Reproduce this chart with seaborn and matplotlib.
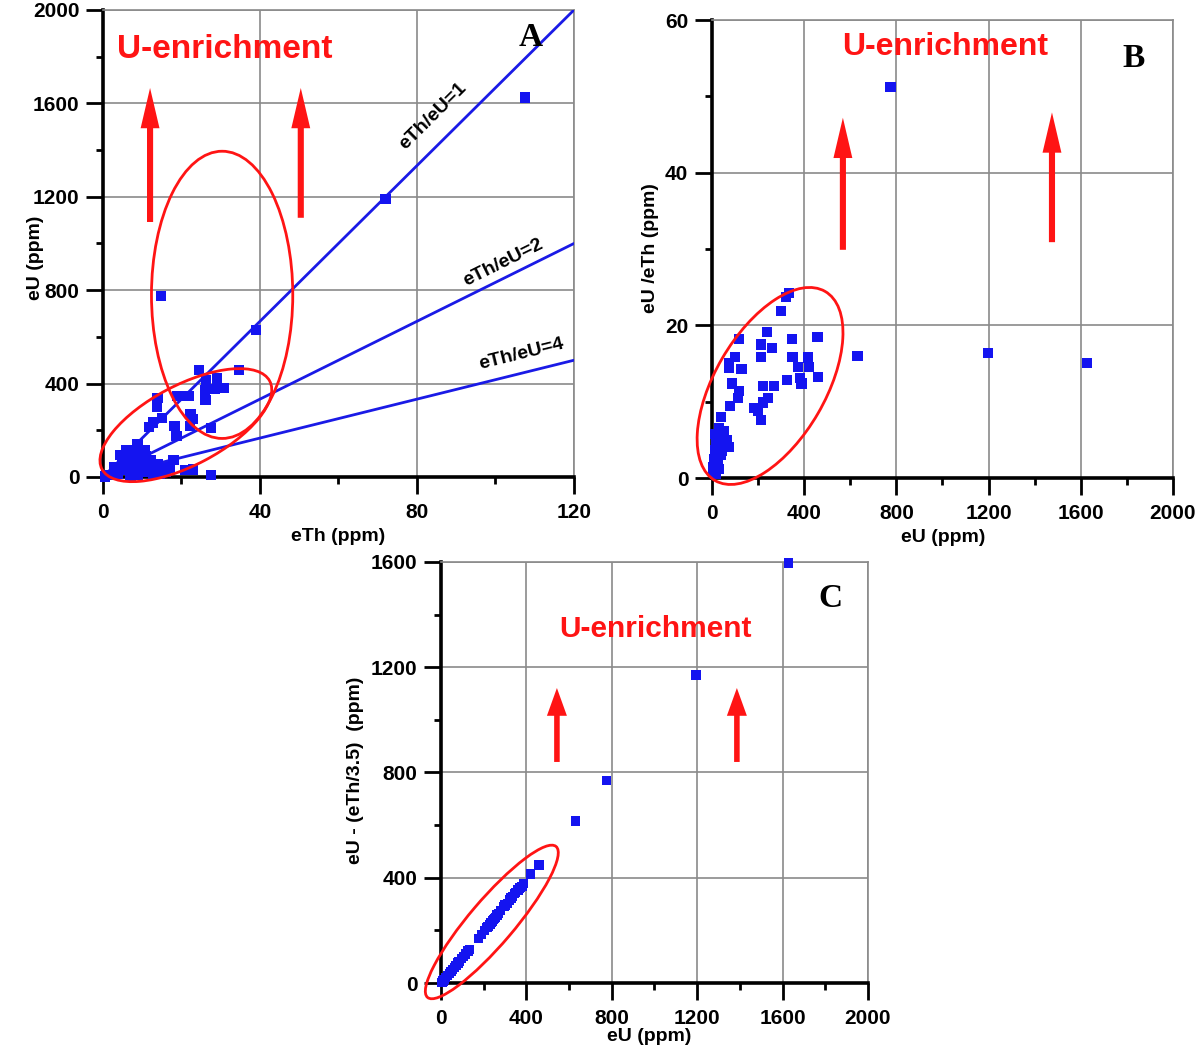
import numpy as np
import pandas as pd
import matplotlib
matplotlib.use("Agg")
import matplotlib.pyplot as plt
import seaborn as sns
from matplotlib.patches import Ellipse
from matplotlib.ticker import MultipleLocator

# ---------------- data ----------------
# Panel A : eTh (ppm) vs eU (ppm)
a_eth = [107.5, 72, 14.7, 39,
         24.4, 34.6, 26.3, 29, 28.5, 30.7, 26, 26.1, 13.9, 13.7, 19, 21.8, 15.1, 12.7, 11.7,
         22.3, 23, 22.1, 18.2, 18.7, 27.6, 18, 20.9, 23, 27.5, 8.6, 9.8,
         5.9, 8, 10.7, 8.8, 2.9, 4.9, 6.8, 9.8, 11.7, 13.7, 15.6, 12.7, 7.8, 3.9, 1.5, 0.5,
         5.9, 8.8, 10.7, 7.3, 12.2, 4.4, 8.8, 6.5, 11, 9, 14.5, 17, 3.5, 10, 5, 7, 12, 14, 16]
a_eu = [1625, 1190, 775, 630,
        458, 458, 415, 422, 378, 381, 371, 330, 337, 301, 346, 346, 252, 233, 215,
        269, 247, 218, 218, 175, 211, 73, 29, 32, 7, 130, 113,
        116, 116, 116, 95, 44, 73, 65, 58, 44, 29, 36, 15, 22, 15, 7, 2,
        29, 36, 22, 51, 73, 95, 140, 85, 90, 10, 12, 40, 30, 60, 55, 5, 50, 55, 20]

# Panel B : eU (ppm) vs eU/eTh
b_eu = [775, 631, 1197, 1628,
        334, 322, 300, 118, 214, 239, 259, 347, 458, 101, 73, 73, 128, 214, 350, 418, 372, 420,
        460, 327, 383, 388, 86, 118, 114, 78, 222, 269, 181, 201, 214, 222, 242, 40,
        32, 48, 65, 73, 36, 15, 40, 23, 7, 3, 15, 32, 56, 27, 20, 45, 10, 25, 50, 12]
b_ratio = [51.2, 16.0, 16.4, 15.1,
           24.2, 23.7, 21.9, 18.2, 17.5, 19.1, 17.0, 18.2, 18.5, 15.9, 15.1, 14.4, 14.3, 15.9, 15.9, 15.8, 14.5, 14.5,
           13.2, 12.8, 13.1, 12.4, 12.4, 11.4, 10.5, 9.4, 12.1, 12.1, 9.2, 8.8, 7.6, 9.9, 10.5, 8.0,
           6.5, 5.9, 5.0, 4.1, 4.5, 3.6, 3.0, 2.3, 1.4, 0.8, 0.5, 1.2, 4.1, 5.4, 4.8, 3.5, 2.5, 1.8, 6.2, 5.8]

# Panel C : eU (ppm) vs eU - eTh/3.5
c_eu = [1628, 1195, 775, 630, 459, 419, 379, 368, 344, 328, 320, 295, 263, 247, 234, 215, 204,
        175, 127, 114, 95, 79, 63, 47, 31, 14, 6, 230, 240, 255, 270, 300, 310, 350, 360, 370,
        385, 132, 105, 85, 70, 55, 40, 22, 10, 2, 190, 220, 250, 280, 335]
c_diff = [1596, 1170, 770, 616, 448, 414, 366, 359, 340, 323, 315, 290, 258, 242, 229, 210, 199,
          170, 122, 110, 92, 76, 60, 45, 29, 13, 4, 222, 236, 248, 265, 296, 302, 345, 354, 362,
          378, 127, 101, 82, 67, 52, 37, 20, 8, 1, 185, 216, 244, 276, 330]

# reference lines of panel A
ratio_labels = ["eTh/eU=1", "eTh/eU=2", "eTh/eU=4"]
line_eth = [0, 120]
line_eu_end = [2000, 1000, 500]

# ---------------- style ----------------
sns.set_theme(style="white")
plt.rcParams["font.family"] = ["Liberation Sans", "DejaVu Sans"]
plt.rcParams["font.weight"] = "bold"
plt.rcParams["axes.labelweight"] = "bold"
for k in ["text.color", "axes.labelcolor", "xtick.color", "ytick.color"]:
    plt.rcParams[k] = "black"

BLUE = "#1414f0"
RED = "#ff1414"
GRID = "#8a8a8a"
TICK_FS = 15
LAB_FS = 14

fig = plt.figure(figsize=(12, 10.49), dpi=100)
axA = fig.add_axes([0.0858, 0.5453, 0.3925, 0.4452])
axB = fig.add_axes([0.5933, 0.5443, 0.3842, 0.4366])
axC = fig.add_axes([0.3675, 0.0629, 0.3558, 0.4014])


def style(ax, xlim, ylim, xmaj, xmin, ymaj, ymin):
    ax.set_xlim(*xlim)
    ax.set_ylim(*ylim)
    ax.xaxis.set_major_locator(MultipleLocator(xmaj))
    ax.xaxis.set_minor_locator(MultipleLocator(xmin))
    ax.yaxis.set_major_locator(MultipleLocator(ymaj))
    ax.yaxis.set_minor_locator(MultipleLocator(ymin))
    ax.grid(True, which="major", color=GRID, lw=1.2)
    ax.set_axisbelow(True)
    for s in ["top", "right"]:
        ax.spines[s].set_color(GRID)
        ax.spines[s].set_linewidth(1.2)
    for s in ["left", "bottom"]:
        ax.spines[s].set_color("black")
        ax.spines[s].set_linewidth(2.6)
    ax.tick_params(which="major", direction="out", length=12, width=2, color="black",
                   labelsize=TICK_FS, bottom=True, left=True)
    ax.tick_params(axis="x", which="major", pad=7)
    ax.tick_params(axis="y", which="major", pad=5)
    ax.tick_params(which="minor", direction="out", length=5, width=2, color="black",
                   bottom=True, left=True)
    for lab in ax.get_xticklabels() + ax.get_yticklabels():
        lab.set_fontweight("bold")


def labels(ax, xlabel, ylabel, xpos, ypos):
    ax.set_xlabel(xlabel, fontsize=LAB_FS, fontweight="bold")
    ax.set_ylabel(ylabel, fontsize=LAB_FS, fontweight="bold")
    ax.xaxis.set_label_coords(*xpos)
    ax.yaxis.set_label_coords(*ypos)
    ax.xaxis.label.set_verticalalignment("center")
    ax.yaxis.label.set_verticalalignment("center")


def arrow(ax, x, y0, y1, hw=0.68, hl=1.45, tw=0.22):
    ax.annotate("", xy=(x, y1), xytext=(x, y0),
                arrowprops=dict(arrowstyle=f"simple,head_length={hl},head_width={hw},tail_width={tw}",
                                color=RED, lw=0, mutation_scale=20, shrinkA=0, shrinkB=0))


def ellipse(ax, cx, cy, w, h, ang):
    ax.add_patch(Ellipse((cx, cy), w, h, angle=ang, transform=ax.transAxes,
                         fill=False, edgecolor=RED, lw=2, clip_on=False, zorder=5))


# ---------------- panel A ----------------
dfA = pd.DataFrame({"eTh": a_eth, "eU": a_eu})
style(axA, (0, 120), (0, 2000), 40, 20, 400, 200)
for lab, end in zip(ratio_labels, line_eu_end):
    dl = pd.DataFrame({"eTh": line_eth, "eU": [0, end]})
    sns.lineplot(data=dl, x="eTh", y="eU", ax=axA, color="#1a1ae6", lw=2, zorder=3)
sns.scatterplot(data=dfA, x="eTh", y="eU", ax=axA, marker="s", s=55, color=BLUE,
                edgecolor="none", zorder=4, clip_on=False)
labels(axA, "eTh (ppm)", "eU (ppm)", (0.499, -0.128), (-0.144, 0.47))

fig.canvas.draw()
label_pos = [(84, 1545), (102, 920), (106.5, 525)]
for lab, end, (tx, ty) in zip(ratio_labels, line_eu_end, label_pos):
    p0 = axA.transData.transform((0, 0))
    p1 = axA.transData.transform((120, end))
    ang = np.degrees(np.arctan2(p1[1] - p0[1], p1[0] - p0[0]))
    axA.text(tx, ty, lab, rotation=ang, rotation_mode="anchor", ha="center", va="center",
             fontsize=14, fontweight="bold", color="black")

axA.text(31, 1829, "U-enrichment", color=RED, fontsize=24, fontweight="bold",
         ha="center", va="center")
axA.text(109, 1880, "A", family="Liberation Serif", fontsize=24, fontweight="bold",
         ha="center", va="center", color="black")
arrow(axA, 12, 1092, 1666)
arrow(axA, 50.4, 1110, 1666)
ellipse(axA, 0.253, 0.39, 0.30, 0.615, 0)
ellipse(axA, 0.176, 0.111, 0.403, 0.171, 28)

# ---------------- panel B ----------------
dfB = pd.DataFrame({"eU": b_eu, "ratio": b_ratio})
style(axB, (0, 2000), (0, 60), 400, 200, 20, 10)
sns.scatterplot(data=dfB, x="eU", y="ratio", ax=axB, marker="s", s=55, color=BLUE,
                edgecolor="none", zorder=4, clip_on=False)
labels(axB, "eU (ppm)", "eU /eTh (ppm)", (0.501, -0.129), (-0.134, 0.502))
axB.text(1011, 56.5, "U-enrichment", color=RED, fontsize=23, fontweight="bold",
         ha="center", va="center")
axB.text(1831, 55, "B", family="Liberation Serif", fontsize=24, fontweight="bold",
         ha="center", va="center", color="black")
arrow(axB, 568, 29.9, 47.2)
arrow(axB, 1475, 30.9, 47.9)
ellipse(axB, 0.126, 0.201, 0.477, 0.24, 60)

# ---------------- panel C ----------------
dfC = pd.DataFrame({"eU": c_eu, "diff": c_diff})
style(axC, (0, 2000), (0, 1600), 400, 200, 400, 200)
sns.scatterplot(data=dfC, x="eU", y="diff", ax=axC, marker="s", s=45, color=BLUE,
                edgecolor="none", zorder=4, clip_on=False)
labels(axC, "eU (ppm)", "eU - (eTh/3.5)  (ppm)", (0.487, -0.128), (-0.201, 0.506))
axC.text(1007, 1345, "U-enrichment", color=RED, fontsize=21.5, fontweight="bold",
         ha="center", va="center")
axC.text(1822, 1463, "C", family="Liberation Serif", fontsize=24, fontweight="bold",
         ha="center", va="center", color="black")
arrow(axC, 543, 840, 1121, hw=0.72, hl=1.0, tw=0.2)
arrow(axC, 1386, 840, 1121, hw=0.72, hl=1.0, tw=0.2)
ellipse(axC, 0.119, 0.145, 0.468, 0.105, 50)

fig.savefig("out.png", dpi=100, facecolor="white")
